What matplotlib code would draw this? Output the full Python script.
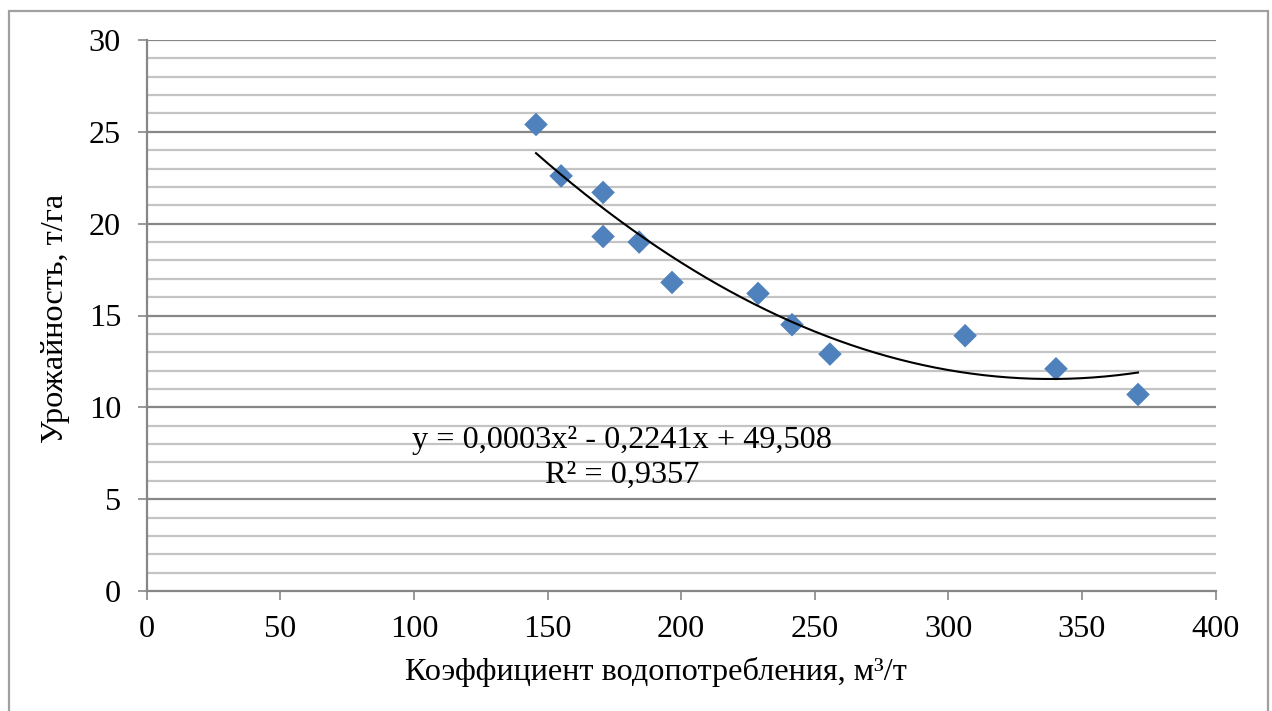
import matplotlib
matplotlib.use("Agg")
import matplotlib.pyplot as plt
import numpy as np

# water use coefficient (m3/t) vs yield (t/ha)
coef = [145.7, 155.1, 170.8, 170.8, 184.3, 196.6, 228.8, 241.5, 255.7, 306.3, 340.3, 371.0]
yield_t = [25.4, 22.6, 21.7, 19.3, 19.0, 16.8, 16.2, 14.5, 12.9, 13.9, 12.1, 10.7]

eq_line = "y = 0,0003x² - 0,2241x + 49,508"
r2_line = "R² = 0,9357"

plt.rcParams["font.family"] = ["Liberation Serif", "DejaVu Serif"]
FS = 23.2
GRID_MAJ = "#878787"
GRID_MIN = "#c4c4c4"

fig = plt.figure(figsize=(12.72, 7.11), dpi=100)
ax = fig.add_axes([146.7 / 1272, 120 / 711, 1068.8 / 1272, 551 / 711])

# outer chart frame
fig.patches.append(plt.Rectangle((9 / 1272, -0.05), 1259 / 1272, 1.05 - 11 / 711,
                                 transform=fig.transFigure, fill=False,
                                 edgecolor="#a0a0a0", linewidth=1.6))

ax.set_xlim(0, 400)
ax.set_ylim(0, 30)
ax.set_xticks(np.arange(0, 401, 50))
ax.set_yticks(np.arange(0, 31, 5))
ax.set_yticks(np.arange(0, 31, 1), minor=True)

for v in np.arange(1, 30, 1):
    if v % 5:
        ax.axhline(v, color=GRID_MIN, linewidth=1.6, zorder=1)
for v in np.arange(5, 31, 5):
    ax.axhline(v, color=GRID_MAJ, linewidth=1.6, zorder=1)

for s in ("top", "right"):
    ax.spines[s].set_visible(False)
for s in ("left", "bottom"):
    ax.spines[s].set_color(GRID_MAJ)
    ax.spines[s].set_linewidth(1.6)

ax.tick_params(which="major", direction="out", length=6.5, width=1.2,
               color=GRID_MAJ, labelsize=FS)
ax.tick_params(axis="x", pad=11)
ax.tick_params(axis="y", pad=12)
ax.tick_params(which="minor", length=0)

ax.scatter(coef, yield_t, marker="D", s=12 ** 2, color="#4f81bd",
           edgecolors="none", zorder=3)

# second order polynomial trendline
p = np.polyfit(coef, yield_t, 2)
xx = np.linspace(min(coef), max(coef), 200)
ax.plot(xx, np.polyval(p, xx), color="black", linewidth=1.5, zorder=4)

ax.text(177.9, 8.2, eq_line, ha="center", va="center", fontsize=FS, zorder=5)
ax.text(177.9, 6.3, r2_line, ha="center", va="center", fontsize=FS, zorder=5)

ax.set_xlabel("Коэффициент водопотребления, м³/т", fontsize=FS)
ax.set_ylabel("Урожайность, т/га", fontsize=FS)
ax.xaxis.set_label_coords(0.476, -0.12)
ax.yaxis.set_label_coords(-0.072, 0.495)

fig.savefig("out.png", dpi=100)
